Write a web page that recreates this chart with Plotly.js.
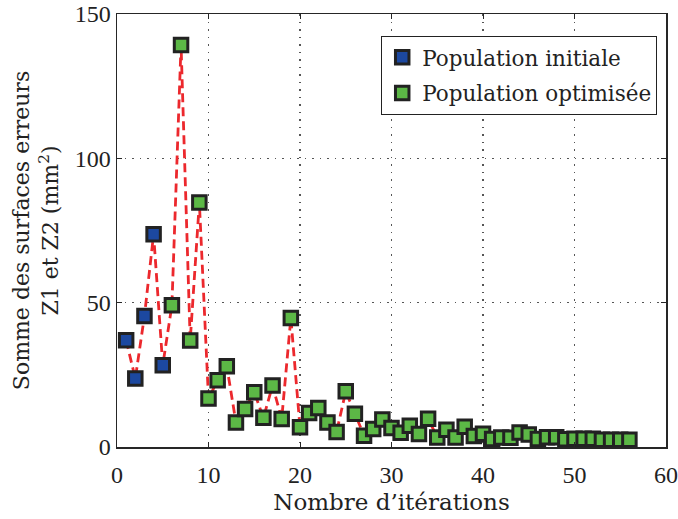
<!DOCTYPE html>
<html>
<head>
<meta charset="utf-8">
<script src="https://cdn.plot.ly/plotly-3.0.1.min.js"></script>
<style>html,body{margin:0;padding:0;background:#fff;}#chart{width:678px;height:519px;}</style>
</head>
<body>
<div id="chart"></div>
<script>
// Iterations and values (mm²)
const initIter = [1, 2, 3, 4, 5];
const initVal = [37.0, 23.7, 45.4, 73.7, 28.3];
const optIter = [6, 7, 8, 9, 10, 11, 12, 13, 14, 15, 16, 17, 18, 19, 20,
  21, 22, 23, 24, 25, 26, 27, 28, 29, 30, 31, 32, 33, 34, 35, 36, 37, 38, 39, 40,
  41, 42, 43, 44, 45, 46, 47, 48, 49, 50, 51, 52, 53, 54, 55, 56];
const optVal = [49.1, 139.3, 36.9, 84.7, 16.8, 23.1, 28.0, 8.5, 13.2, 19.0, 10.1, 21.3, 9.7, 44.7, 6.8,
  11.8, 13.5, 8.5, 5.2, 19.3, 11.5, 3.9, 6.2, 9.5, 6.6, 4.9, 7.4, 4.5, 9.8, 3.3, 6.0, 3.3, 7.0, 3.8, 4.6,
  2.8, 3.3, 3.2, 5.0, 4.3, 2.8, 3.4, 3.4, 2.7, 2.9, 2.9, 2.9, 2.5, 2.5, 2.5, 2.5];
const xTicks = [0, 10, 20, 30, 40, 50, 60];
const yTicks = [0, 50, 100, 150];

const TFONT = 'DejaVu Serif, serif';
const NFONT = 'Liberation Serif, Times New Roman, serif';
const markerLine = {color: '#222222', width: 3};

const traces = [
  {
    x: initIter.concat(optIter), y: initVal.concat(optVal),
    mode: 'lines', type: 'scatter', showlegend: false, hoverinfo: 'skip',
    line: {color: 'rgb(236,40,45)', width: 2.8, dash: '9px,5px'}
  },
  {
    x: initIter, y: initVal, mode: 'markers', type: 'scatter', name: 'Population initiale',
    legendgroup: 'a',
    marker: {symbol: 'square', size: 13.5, color: 'rgb(28,72,160)', line: markerLine}
  },
  {
    x: optIter, y: optVal, mode: 'markers', type: 'scatter', name: 'Population optimisée',
    legendgroup: 'b',
    marker: {symbol: 'square', size: 13.5, color: 'rgb(92,184,70)', line: markerLine}
  }
];

const axisCommon = {
  showline: true, mirror: 'ticks', linecolor: '#262626', linewidth: 1.5,
  ticks: 'inside', ticklen: 5, tickcolor: '#262626', tickwidth: 1,
  showgrid: true, gridcolor: '#555555', gridwidth: 1.2, griddash: '1.5px,6px',
  zeroline: false, tickfont: {family: NFONT, size: 24, color: '#222'}
};

const layout = {
  width: 678, height: 519,
  margin: {l: 117, r: 12, t: 14, b: 72},
  paper_bgcolor: '#ffffff', plot_bgcolor: '#ffffff',
  font: {family: TFONT, size: 22, color: '#222'},
  xaxis: Object.assign({}, axisCommon, {
    range: [0, 60], tickvals: xTicks, ticktext: xTicks.map(String),
    ticklabelstandoff: 6,
    title: {text: 'Nombre d’itérations', font: {family: TFONT, size: 23, color: '#222'}, standoff: 6}
  }),
  yaxis: Object.assign({}, axisCommon, {
    range: [0, 150], tickvals: yTicks, ticktext: yTicks.map(String),
    title: {text: 'Somme des surfaces erreurs<br>Z1 et Z2 (mm<sup>2</sup>)', font: {family: TFONT, size: 22, color: '#222'}, standoff: 10}
  }),
  legend: {
    x: 0.984, y: 0.95, xanchor: 'right', yanchor: 'top',
    bordercolor: '#222', borderwidth: 1, bgcolor: '#fff',
    font: {family: TFONT, size: 21.5, color: '#222'},
    itemwidth: 30, tracegroupgap: 5, traceorder: 'grouped'
  },
  showlegend: true
};

Plotly.newPlot('chart', traces, layout, {displayModeBar: false, staticPlot: true});
</script>
</body>
</html>
